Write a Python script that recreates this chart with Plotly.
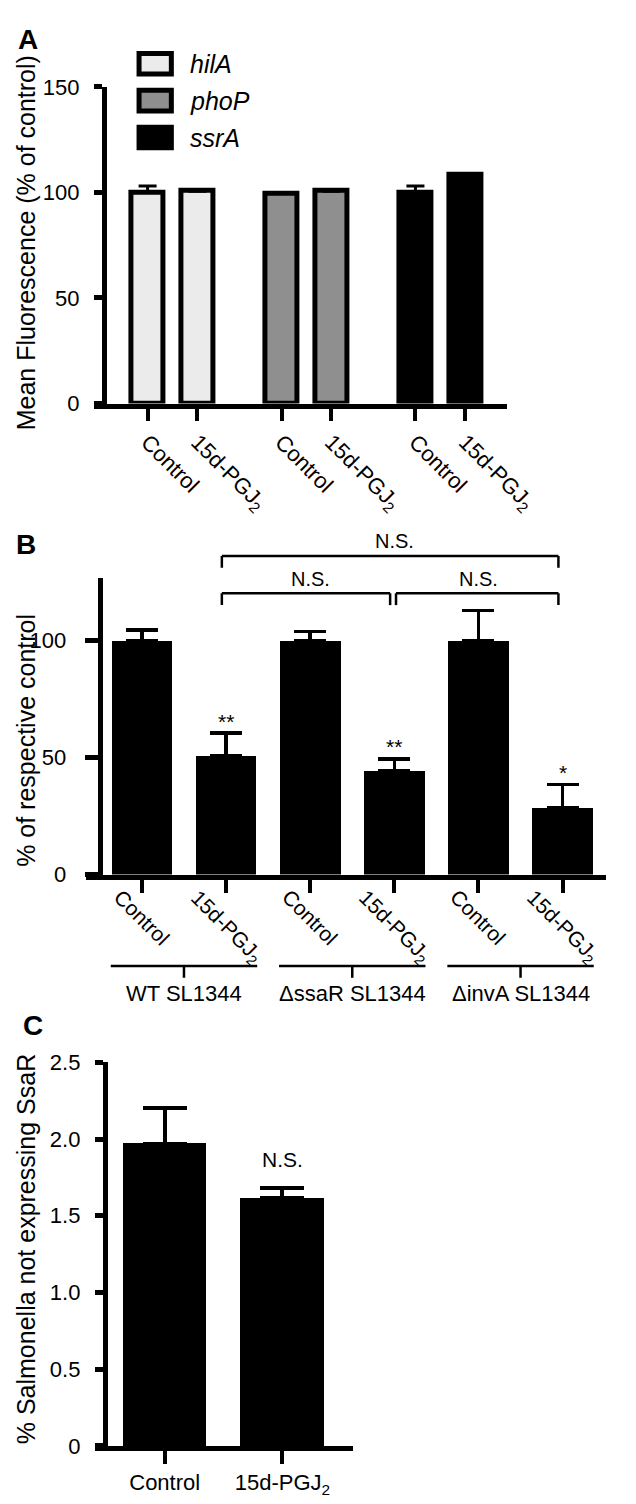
import plotly.graph_objects as go

W, H = 636, 1504

# ---------------- data ----------------
# Panel A
a_genes = ["hilA", "phoP", "ssrA"]
a_treatments = ["Control", "15d-PGJ<sub>2</sub>"]
a_hilA = [100.0, 100.5]
a_phoP = [99.5, 100.5]
a_ssrA = [100.0, 108.5]
a_hilA_err = [3.0, 0.0]
a_phoP_err = [0.0, 0.0]
a_ssrA_err = [3.0, 0.0]
a_colors = ["#ebebeb", "#8f8f8f", "#000000"]
a_yticks = [0, 50, 100, 150]

# Panel B
b_strains = ["WT SL1344", "\u0394ssaR SL1344", "\u0394invA SL1344"]
b_treatments = ["Control", "15d-PGJ<sub>2</sub>"]
b_values = [100.0, 51.0, 100.0, 44.5, 100.0, 28.5]
b_errors = [4.5, 9.5, 4.0, 5.0, 13.0, 10.0]
b_stars = ["", "**", "", "**", "", "*"]
b_yticks = [0, 50, 100]
b_compare = [(1, 3, "N.S."), (3, 5, "N.S."), (1, 5, "N.S.")]

# Panel C
c_labels = ["Control", "15d-PGJ<sub>2</sub>"]
c_values = [1.97, 1.615]
c_errors = [0.23, 0.065]
c_note = ["", "N.S."]
c_yticks = [0, 0.5, 1.0, 1.5, 2.0, 2.5]
c_yticktext = ["0", "0.5", "1.0", "1.5", "2.0", "2.5"]

# ---------------- helpers ----------------
FONT = "Liberation Sans, Arial, sans-serif"


def fx(px):
    return min(1.0, max(0.0, px / W))


def fy(py):
    return min(1.0, max(0.0, 1 - py / H))


fig = go.Figure()

# ---------------- Panel A ----------------
GROUP = 2.686
a_series = [a_hilA, a_phoP, a_ssrA]
a_errs = [a_hilA_err, a_phoP_err, a_ssrA_err]
a_x_all, a_text_all = [], []
for g, gene in enumerate(a_genes):
    xs = [g * GROUP + t for t in range(len(a_treatments))]
    a_x_all += xs
    a_text_all += a_treatments
    fig.add_trace(go.Bar(
        x=xs, y=a_series[g], width=0.65, name=gene,
        marker=dict(color=a_colors[g], line=dict(color="black", width=5)),
        error_y=dict(type="data", array=a_errs[g], arrayminus=[0] * 2, symmetric=False,
                     color="black", thickness=3, width=9),
        xaxis="x", yaxis="y", showlegend=False,
    ))

# Legend (drawn manually to match the large swatches)
for i, gene in enumerate(a_genes):
    top = 32 + i * 37.5
    fig.add_shape(type="rect", xref="paper", yref="paper",
                  x0=fx(138), x1=fx(172), y0=fy(top + 2), y1=fy(top + 23),
                  fillcolor=a_colors[i], line=dict(color="black", width=5))
    fig.add_annotation(xref="paper", yref="paper", x=fx(190), y=fy(top + 13),
                       text="<i>%s</i>" % gene, showarrow=False, xanchor="left",
                       yanchor="middle", font=dict(size=25, color="black", family=FONT))

# ---------------- Panel B ----------------
b_x = list(range(len(b_values)))
b_ticktext = [b_treatments[i % 2] for i in b_x]
fig.add_trace(go.Bar(
    x=b_x, y=b_values, width=0.72,
    marker=dict(color="black", line=dict(width=0)),
    error_y=dict(type="data", array=b_errors, arrayminus=[0] * len(b_errors), symmetric=False,
                 color="black", thickness=3.5, width=16),
    xaxis="x2", yaxis="y2", showlegend=False,
))
for i, s in enumerate(b_stars):
    if s:
        fig.add_annotation(xref="x2", yref="y2", x=b_x[i], y=b_values[i] + b_errors[i],
                           text=s, showarrow=False, yanchor="middle", yshift=12,
                           font=dict(size=21, color="black", family=FONT))
# rotated category labels, centred under their ticks
for i, t in enumerate(b_ticktext):
    fig.add_annotation(xref="x2", yref="paper", x=b_x[i], y=fy(877), text=t, textangle=45,
                       showarrow=False, xanchor="center", yanchor="top",
                       font=dict(size=21, color="black", family=FONT))

# group lines under B
for s, strain in enumerate(b_strains):
    c = 2 * s + 0.5
    fig.add_shape(type="line", xref="x2", yref="paper", x0=c - 0.87, x1=c + 0.87,
                  y0=fy(962), y1=fy(962), line=dict(color="black", width=2.5))
    fig.add_shape(type="line", xref="x2", yref="paper", x0=c, x1=c,
                  y0=fy(962), y1=fy(974), line=dict(color="black", width=2.5))
    fig.add_annotation(xref="x2", yref="paper", x=c, y=fy(990), text=strain,
                       showarrow=False, yanchor="middle",
                       font=dict(size=22, color="black", family=FONT))

# significance brackets
for (i0, i1, lab) in b_compare:
    top_level = (i1 - i0) > 2
    yb = 545 if top_level else 583
    xa = i0 - 0.05 if i0 == 1 else i0 + 0.02
    xb = i1 - 0.05
    for (p, q) in [((xa, yb + 12), (xa, yb)), ((xa, yb), (xb, yb)), ((xb, yb), (xb, yb + 12))]:
        fig.add_shape(type="line", xref="x2", yref="paper", x0=p[0], x1=q[0],
                      y0=fy(p[1]), y1=fy(q[1]), line=dict(color="black", width=2.5))
    fig.add_annotation(xref="x2", yref="paper", x=(i0 + i1) / 2, y=fy(yb - 15), text=lab,
                       showarrow=False, yanchor="middle",
                       font=dict(size=20, color="black", family=FONT))

# ---------------- Panel C ----------------
c_x = list(range(len(c_values)))
fig.add_trace(go.Bar(
    x=c_x, y=c_values, width=0.71,
    marker=dict(color="black", line=dict(width=0)),
    error_y=dict(type="data", array=c_errors, arrayminus=[0] * len(c_errors), symmetric=False,
                 color="black", thickness=4, width=22),
    xaxis="x3", yaxis="y3", showlegend=False,
))
for i, n in enumerate(c_note):
    if n:
        fig.add_annotation(xref="x3", yref="y3", x=c_x[i], y=c_values[i] + c_errors[i],
                           text=n, showarrow=False, yanchor="middle", yshift=29,
                           font=dict(size=21, color="black", family=FONT))

# ---------------- panel letters & axis titles ----------------
for lab, (px, py) in {"A": (21, 20), "B": (19, 533), "C": (26, 1022)}.items():
    fig.add_annotation(xref="paper", yref="paper", x=fx(px), y=fy(py), text="<b>%s</b>" % lab,
                       showarrow=False, xanchor="center", yanchor="middle",
                       font=dict(size=28, color="black", family=FONT))

titles = [("Mean Fluorescence (% of control)", 227),
          ("% of respective control", 733),
          ("% Salmonella not expressing SsaR", 1250)]
for t, py in titles:
    fig.add_annotation(xref="paper", yref="paper", x=fx(19), y=fy(py), text=t, textangle=-90,
                       showarrow=False, xanchor="center", yanchor="middle",
                       font=dict(size=25, color="black", family=FONT))

# ---------------- axes ----------------
tickfont = dict(size=22, color="black", family=FONT)


def xax(domain_px, rng, tickvals, ticktext, angle, ticklen, show_labels=True):
    return dict(domain=[fx(domain_px[0]), fx(domain_px[1])], range=rng, showline=True,
                linewidth=5, linecolor="black", ticks="outside", ticklen=ticklen, tickwidth=4,
                tickcolor="black", tickvals=tickvals, ticktext=ticktext, tickangle=angle,
                showticklabels=show_labels,
                tickfont=tickfont, showgrid=False, zeroline=False, fixedrange=True)


def yax(domain_px, rng, xpos_px, tickvals, ticktext, ticklen, standoff):
    return dict(domain=[fy(domain_px[0]), fy(domain_px[1])], range=rng, anchor="free",
                position=fx(xpos_px), showline=True, linewidth=5, linecolor="black",
                ticks="outside", ticklen=ticklen, tickwidth=5, tickcolor="black",
                tickvals=tickvals, ticktext=ticktext, tickfont=tickfont, showgrid=False,
                zeroline=False, ticklabelstandoff=standoff)


# Panel A geometry: first bar at 147px, 52.5px per unit
a_unit, a_x0 = 52.5, 147
# Panel B geometry: first bar at 141px, 88.6px per unit
b_unit, b_x0, b_right = 88.6, 141, 630
# Panel C geometry
c_unit, c_x0 = 124, 165

fig.update_layout(
    width=W, height=H, margin=dict(l=0, r=0, t=0, b=0),
    paper_bgcolor="white", plot_bgcolor="rgba(0,0,0,0)",
    bargap=0, showlegend=False,
    font=dict(family=FONT, color="black"),
    xaxis=xax((91, 525), [(91 - a_x0) / a_unit, (525 - a_x0) / a_unit], a_x_all, a_text_all, 45, 12),
    yaxis=yax((390, 68), [0, 150], 101, a_yticks, [str(v) for v in a_yticks], 8, 10),
    xaxis2=xax((82, b_right), [(82 - b_x0) / b_unit, (b_right - b_x0) / b_unit], b_x, b_ticktext,
               45, 13, show_labels=False),
    yaxis2=yax((869, 567), [0, 127], 96.5, b_yticks, [str(v) for v in b_yticks], 13, 14),
    xaxis3=xax((92, 363), [(92 - c_x0) / c_unit, (363 - c_x0) / c_unit], c_x, c_labels, 0, 13),
    yaxis3=yax((1450, 1060), [0, 2.5], 102, c_yticks, c_yticktext, 8, 10),
)
fig.update_layout(xaxis=dict(anchor="y"), xaxis2=dict(anchor="y2"), xaxis3=dict(anchor="y3"))

fig.write_html("out.html")
